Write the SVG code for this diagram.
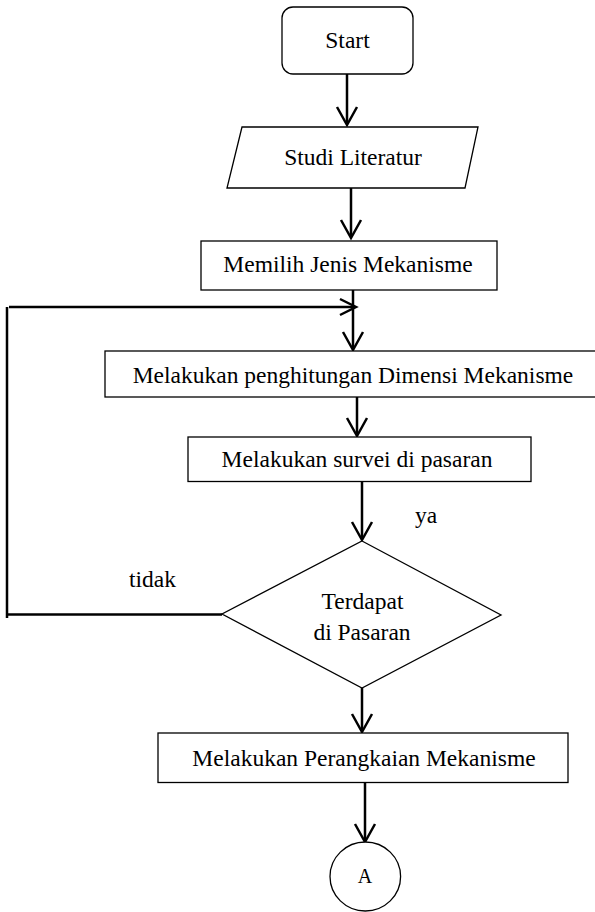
<svg xmlns="http://www.w3.org/2000/svg" width="595" height="912" viewBox="0 0 595 912">
<style>
.box{fill:#fff;stroke:#000;stroke-width:1.3}
.t{font-family:'Liberation Serif',Tinos,'Times New Roman',Times,'DejaVu Serif',serif;font-size:23.5px;fill:#000;text-anchor:middle}
.c{fill:none;stroke:#000;stroke-width:2.5}
.ah{fill:none;stroke:#000;stroke-width:2.5;stroke-linejoin:miter}
</style>
<defs>
<clipPath id="clipSurvei"><rect x="188" y="437" width="343" height="35"/></clipPath>
</defs>
<rect width="595" height="912" fill="#fff"/>
<g id="connectors">
  <line class="c" x1="347" y1="74" x2="347" y2="124"/>
  <polyline class="ah" points="337,107 347,125 357,107"/>
  <line class="c" x1="351" y1="188" x2="351" y2="237"/>
  <polyline class="ah" points="341,220 351,238 361,220"/>
  <line class="c" x1="353" y1="290" x2="353" y2="349"/>
  <polyline class="ah" points="343,332 353,350 363,332"/>
  <line class="c" x1="357" y1="397" x2="357" y2="435"/>
  <polyline class="ah" points="347,418 357,436 367,418"/>
  <line class="c" x1="362" y1="482" x2="362" y2="539"/>
  <polyline class="ah" points="352,522 362,540 372,522"/>
  <line class="c" x1="362" y1="688" x2="362" y2="731"/>
  <polyline class="ah" points="352,714 362,732 372,714"/>
  <line class="c" x1="365" y1="783" x2="365" y2="841"/>
  <polyline class="ah" points="355,824 365,842 375,824"/>
  <line class="c" x1="222" y1="614.5" x2="8" y2="614.5"/>
  <line class="c" x1="7" y1="307" x2="7" y2="618"/>
  <line class="c" x1="9" y1="307" x2="355" y2="307"/>
  <polyline class="ah" points="340,299 356,307 340,315"/>
  <text class="t" x="415" y="523" style="text-anchor:start">ya</text>
  <text class="t" x="129" y="587" style="text-anchor:start">tidak</text>
</g>
<g id="start">
  <rect class="box" x="282" y="7" width="131" height="67" rx="11" ry="11"/>
  <text class="t" x="347.5" y="48">Start</text>
</g>
<g id="studi">
  <polygon class="box" points="242,127 478,127 465,188 227,188"/>
  <text class="t" x="353" y="165">Studi Literatur</text>
</g>
<g id="memilih">
  <rect class="box" x="201" y="241" width="296" height="49"/>
  <text class="t" x="348" y="272">Memilih Jenis Mekanisme</text>
</g>
<g id="penghitungan">
  <rect class="box" x="105" y="351" width="500" height="46"/>
  <text class="t" x="353" y="383">Melakukan penghitungan Dimensi Mekanisme</text>
</g>
<g id="survei">
  <rect class="box" x="188" y="437" width="343" height="44.5"/>
  <text class="t" x="357" y="467" clip-path="url(#clipSurvei)">Melakukan survei di pasaran</text>
</g>
<g id="keputusan">
  <polygon class="box" points="362,541 501,615 362,688 222,614"/>
  <text class="t" x="362.5" y="609">Terdapat</text>
  <text class="t" x="362" y="640">di Pasaran</text>
</g>
<g id="perangkaian">
  <rect class="box" x="158" y="733" width="410" height="49.5"/>
  <text class="t" x="364" y="766">Melakukan Perangkaian Mekanisme</text>
</g>
<g id="konektorA">
  <ellipse class="box" cx="365.3" cy="876.5" rx="35.3" ry="34.5"/>
  <text class="t" x="365" y="883" style="font-size:20px">A</text>
</g>
</svg>
